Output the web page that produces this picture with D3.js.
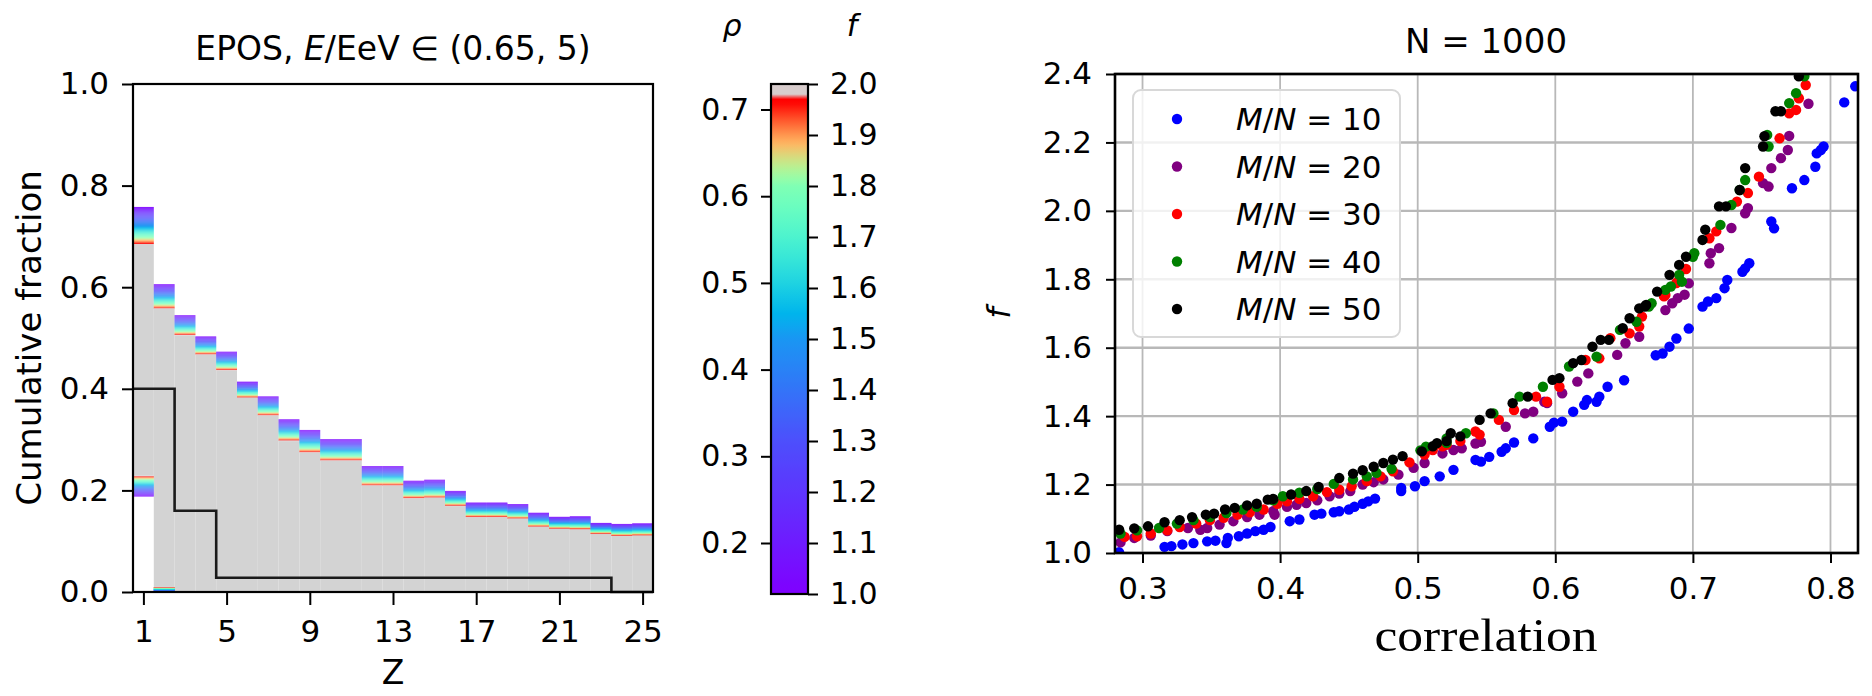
<!DOCTYPE html>
<html>
<head>
<meta charset="utf-8">
<script src="https://cdnjs.cloudflare.com/ajax/libs/d3/7.8.5/d3.min.js"></script>
<style>
body { margin: 0; background: #fff; }
svg { font-family: "DejaVu Sans", sans-serif; }
</style>
</head>
<body>
<script>
// left panel: cumulative fraction per Z, band edges at f = 1 and f = 2
var zBins = [1, 2, 3, 4, 5, 6, 7, 8, 9, 10, 11, 12, 13, 14, 15, 16, 17, 18, 19, 20, 21, 22, 23, 24, 25];
var upperF1 = [0.758, 0.606, 0.545, 0.503, 0.473, 0.414, 0.385, 0.340, 0.319, 0.301, 0.301, 0.248, 0.248,
    0.219, 0.221, 0.199, 0.176, 0.176, 0.173, 0.156, 0.148, 0.149, 0.136, 0.134, 0.135];
var upperF2 = [0.683, 0.557, 0.505, 0.467, 0.436, 0.382, 0.347, 0.297, 0.274, 0.258, 0.258, 0.209, 0.209,
    0.184, 0.185, 0.169, 0.147, 0.147, 0.144, 0.128, 0.124, 0.123, 0.114, 0.110, 0.111];
var lowerF1 = [0.188, 0.0, 0, 0, 0, 0, 0, 0, 0, 0, 0, 0, 0, 0, 0, 0, 0, 0, 0, 0, 0, 0, 0, 0, 0];
var lowerF2 = [0.229, 0.010, 0, 0, 0, 0, 0, 0, 0, 0, 0, 0, 0, 0, 0, 0, 0, 0, 0, 0, 0, 0, 0, 0, 0];
var trueFraction = [0.40, 0.40, 0.16, 0.16, 0.028, 0.028, 0.028, 0.028, 0.028, 0.028, 0.028, 0.028, 0.028,
    0.028, 0.028, 0.028, 0.028, 0.028, 0.028, 0.028, 0.028, 0.028, 0.028, 0, 0];
var zTicks = [1, 5, 9, 13, 17, 21, 25];
var fracTicks = [0, 0.2, 0.4, 0.6, 0.8, 1.0];

// colorbar
var rhoTicks = [0.2, 0.3, 0.4, 0.5, 0.6, 0.7];
var fTicks = [1.0, 1.1, 1.2, 1.3, 1.4, 1.5, 1.6, 1.7, 1.8, 1.9, 2.0];
var cmapF = [1.0, 1.3, 1.5, 1.6, 1.7, 1.8, 1.9, 1.965];
var cmapT = [0, 0.1, 0.2, 0.3, 0.4, 0.5, 0.8, 1.0];

// right panel: f vs correlation
var corrTicks = [0.3, 0.4, 0.5, 0.6, 0.7, 0.8];
var fAxisTicks = [1.0, 1.2, 1.4, 1.6, 1.8, 2.0, 2.2, 2.4];
var seriesLabels = ["10", "20", "30", "40", "50"];

var mn10 = [[0.283,1.002],[0.316,1.018],[0.321,1.020],[0.329,1.025],[0.337,1.029],[0.347,1.034],[0.353,1.036],
    [0.361,1.029],[0.362,1.044],[0.370,1.049],[0.376,1.057],[0.382,1.064],[0.388,1.068],[0.393,1.076],
    [0.407,1.093],[0.414,1.098],[0.425,1.112],[0.430,1.115],[0.439,1.119],[0.443,1.122],[0.450,1.127],
    [0.454,1.135],[0.460,1.144],[0.464,1.151],[0.469,1.159],[0.488,1.181],[0.488,1.190],[0.498,1.195],
    [0.505,1.210],[0.516,1.224],[0.526,1.243],[0.542,1.272],[0.546,1.267],[0.552,1.281],[0.561,1.296],
    [0.564,1.306],[0.570,1.323],[0.584,1.335],[0.596,1.369],[0.599,1.381],[0.605,1.384],[0.613,1.413],
    [0.621,1.433],[0.623,1.447],[0.630,1.442],[0.632,1.457],[0.638,1.486],[0.650,1.505],[0.673,1.578],
    [0.678,1.583],[0.683,1.603],[0.688,1.627],[0.697,1.656],[0.707,1.720],[0.711,1.735],[0.717,1.745],
    [0.723,1.774],[0.725,1.798],[0.736,1.822],[0.738,1.832],[0.741,1.847],[0.757,1.969],[0.759,1.949],
    [0.772,2.066],[0.781,2.090],[0.789,2.129],[0.790,2.168],[0.793,2.178],[0.795,2.188],[0.810,2.317],
    [0.818,2.364]];
var mn20 = [[0.284,1.031],[0.294,1.044],[0.306,1.051],[0.318,1.064],[0.333,1.073],[0.342,1.068],[0.347,1.073],
    [0.356,1.083],[0.366,1.093],[0.376,1.105],[0.385,1.112],[0.395,1.122],[0.396,1.112],[0.405,1.135],
    [0.412,1.141],[0.419,1.146],[0.427,1.154],[0.436,1.166],[0.443,1.174],[0.451,1.181],[0.460,1.200],
    [0.468,1.207],[0.475,1.215],[0.486,1.229],[0.497,1.249],[0.505,1.263],[0.518,1.291],[0.526,1.301],
    [0.532,1.306],[0.542,1.320],[0.546,1.325],[0.564,1.369],[0.578,1.408],[0.584,1.413],[0.592,1.442],
    [0.594,1.438],[0.605,1.467],[0.616,1.501],[0.624,1.525],[0.645,1.579],[0.651,1.613],[0.661,1.632],
    [0.680,1.710],[0.685,1.730],[0.689,1.745],[0.694,1.755],[0.697,1.788],[0.712,1.847],[0.713,1.876],
    [0.719,1.891],[0.728,1.950],[0.738,1.993],[0.740,2.008],[0.751,2.081],[0.755,2.071],[0.757,2.125],
    [0.764,2.154],[0.769,2.178],[0.770,2.219],[0.784,2.313]];
var mn30 = [[0.287,1.047],[0.296,1.049],[0.306,1.057],[0.318,1.066],[0.327,1.076],[0.339,1.086],[0.349,1.096],
    [0.359,1.103],[0.369,1.112],[0.378,1.119],[0.388,1.127],[0.398,1.144],[0.405,1.151],[0.414,1.158],
    [0.424,1.166],[0.434,1.178],[0.443,1.185],[0.452,1.195],[0.463,1.210],[0.473,1.224],[0.482,1.239],
    [0.494,1.265],[0.505,1.288],[0.511,1.301],[0.518,1.312],[0.521,1.316],[0.531,1.327],[0.542,1.355],
    [0.545,1.346],[0.559,1.389],[0.570,1.418],[0.586,1.457],[0.594,1.442],[0.603,1.486],[0.622,1.564],
    [0.632,1.569],[0.640,1.628],[0.654,1.642],[0.661,1.662],[0.663,1.691],[0.679,1.750],[0.680,1.754],
    [0.688,1.789],[0.690,1.798],[0.695,1.830],[0.712,1.920],[0.717,1.940],[0.732,2.027],[0.740,2.052],
    [0.748,2.100],[0.763,2.212],[0.770,2.285],[0.775,2.295],[0.777,2.329],[0.782,2.368]];
var mn40 = [[0.284,1.057],[0.296,1.066],[0.312,1.073],[0.325,1.086],[0.337,1.096],[0.349,1.105],[0.361,1.117],
    [0.373,1.127],[0.383,1.135],[0.395,1.154],[0.402,1.166],[0.414,1.176],[0.427,1.187],[0.439,1.202],
    [0.453,1.215],[0.463,1.224],[0.470,1.234],[0.481,1.246],[0.502,1.300],[0.506,1.311],[0.521,1.322],
    [0.521,1.335],[0.535,1.350],[0.555,1.408],[0.574,1.457],[0.591,1.486],[0.610,1.545],[0.630,1.574],
    [0.647,1.652],[0.659,1.676],[0.668,1.720],[0.670,1.730],[0.680,1.769],[0.684,1.779],[0.690,1.813],
    [0.692,1.793],[0.700,1.866],[0.701,1.876],[0.720,1.959],[0.728,2.017],[0.734,2.061],[0.738,2.090],
    [0.754,2.222],[0.755,2.188],[0.770,2.315],[0.775,2.344],[0.781,2.393]];
var mn50 = [[0.283,1.068],[0.294,1.072],[0.304,1.078],[0.316,1.090],[0.327,1.096],[0.336,1.105],[0.346,1.112],
    [0.352,1.115],[0.360,1.127],[0.367,1.132],[0.376,1.139],[0.383,1.144],[0.391,1.156],[0.395,1.158],
    [0.408,1.171],[0.419,1.181],[0.428,1.193],[0.443,1.219],[0.453,1.232],[0.460,1.242],[0.468,1.252],
    [0.475,1.263],[0.482,1.273],[0.489,1.283],[0.503,1.297],[0.511,1.312],[0.514,1.321],[0.521,1.327],
    [0.524,1.350],[0.531,1.341],[0.545,1.389],[0.553,1.408],[0.569,1.438],[0.580,1.457],[0.598,1.506],
    [0.603,1.511],[0.613,1.555],[0.619,1.564],[0.627,1.603],[0.633,1.623],[0.639,1.623],[0.649,1.657],
    [0.654,1.686],[0.661,1.715],[0.665,1.720],[0.666,1.725],[0.674,1.764],[0.683,1.813],[0.690,1.842],
    [0.695,1.866],[0.707,1.915],[0.709,1.945],[0.719,2.013],[0.724,2.013],[0.734,2.061],[0.738,2.125],
    [0.751,2.188],[0.752,2.218],[0.760,2.291],[0.764,2.291],[0.777,2.393]];


// matplotlib "rainbow"
function rainbow(t) {
    var r = Math.min(1, Math.abs(2 * t - 0.5));
    var g = Math.sin(Math.PI * t);
    var b = Math.cos(Math.PI * t / 2);
    return d3.rgb(r * 255, g * 255, b * 255).toString();
}
var fToT = d3.scaleLinear().domain(cmapF).range(cmapT).clamp(true);
function fColor(f) {
    if (f > 1.975) return "#d8cccc";
    return rainbow(fToT(f));
}

function display() {

    var svg = d3.select("body").append("svg")
        .attr("width", 1872)
        .attr("height", 696);

    // ---------- left panel ----------
    var x = d3.scaleLinear().domain([0.5, 25.5]).range([133, 653]);
    var y = d3.scaleLinear().domain([0, 1]).range([592, 84]);
    var left = svg.append("g").attr("class", "left");

    // gray fill between lower and upper band
    left.append("g").selectAll("rect")
        .data(zBins)
        .enter().append("rect")
        .attr("x", function(z) { return x(z - 0.5); })
        .attr("width", function(z) { return x(z + 0.5) - x(z - 0.5); })
        .attr("y", function(z, i) { return y(upperF2[i]); })
        .attr("height", function(z, i) { return y(lowerF2[i]) - y(upperF2[i]); })
        .attr("fill", "#d3d3d3");

    // colored bands, one slice per f step
    var nSlices = 40;
    var slices = [];
    zBins.forEach(function(z, i) {
        for (var k = 0; k < nSlices; k++) {
            var s0 = k / nSlices, s1 = (k + 1) / nSlices;
            var f = 1 + (s0 + s1) / 2;
            slices.push({ z: z, a: upperF1[i] + (upperF2[i] - upperF1[i]) * s0,
                b: upperF1[i] + (upperF2[i] - upperF1[i]) * s1, f: f });
            if (lowerF2[i] > lowerF1[i]) {
                slices.push({ z: z, a: lowerF1[i] + (lowerF2[i] - lowerF1[i]) * s1,
                    b: lowerF1[i] + (lowerF2[i] - lowerF1[i]) * s0, f: f });
            }
        }
    });
    left.append("g").selectAll("rect")
        .data(slices)
        .enter().append("rect")
        .attr("x", function(d) { return x(d.z - 0.5); })
        .attr("width", function(d) { return x(d.z + 0.5) - x(d.z - 0.5); })
        .attr("y", function(d) { return y(d.a); })
        .attr("height", function(d) { return Math.max(0.5, y(d.b) - y(d.a)); })
        .attr("fill", function(d) { return fColor(d.f); });

    // true composition step line
    var stepPts = [];
    zBins.forEach(function(z, i) {
        stepPts.push([z - 0.5, trueFraction[i]]);
        stepPts.push([z + 0.5, trueFraction[i]]);
    });
    left.append("path")
        .datum(stepPts)
        .attr("d", d3.line().x(function(d) { return x(d[0]); }).y(function(d) { return y(d[1]); }))
        .attr("fill", "none")
        .attr("stroke", "#1a1a1a")
        .attr("stroke-width", 2.6);

    left.append("rect")
        .attr("x", 133).attr("y", 84)
        .attr("width", 520).attr("height", 508)
        .attr("fill", "none")
        .attr("stroke", "#000")
        .attr("stroke-width", 2.2);

    var lx = left.append("g")
        .attr("transform", "translate(0,592)")
        .call(d3.axisBottom(x).tickValues(zTicks).tickSize(13).tickSizeOuter(0).tickPadding(15));
    var ly = left.append("g")
        .attr("transform", "translate(133,0)")
        .call(d3.axisLeft(y).tickValues(fracTicks).tickFormat(d3.format(".1f")).tickSize(11).tickSizeOuter(0).tickPadding(13));
    [lx, ly].forEach(function(g) {
        g.select(".domain").remove();
        g.selectAll("line").attr("stroke", "#000").attr("stroke-width", 2);
        g.selectAll("text").attr("font-size", 31).attr("font-family", "DejaVu Sans");
    });

    left.append("text")
        .attr("x", 393).attr("y", 60)
        .attr("text-anchor", "middle")
        .attr("font-size", 33)
        .html('EPOS, <tspan font-style="italic">E</tspan>/EeV ∈ (0.65, 5)');
    left.append("text")
        .attr("x", 393).attr("y", 684)
        .attr("text-anchor", "middle")
        .attr("font-size", 33)
        .text("Z");
    left.append("text")
        .attr("transform", "translate(41,338) rotate(-90)")
        .attr("text-anchor", "middle")
        .attr("font-size", 34)
        .text("Cumulative fraction");

    // ---------- colorbar ----------
    var cbX = 771, cbW = 37;
    var fScale = d3.scaleLinear().domain([1, 2]).range([594, 84]);
    var rhoScale = d3.scaleLinear().domain([0.2, 0.7]).range([fScale(1.1), fScale(1.95)]);

    var grad = svg.append("defs").append("linearGradient")
        .attr("id", "cbgrad")
        .attr("x1", 0).attr("y1", 1).attr("x2", 0).attr("y2", 0);
    grad.selectAll("stop")
        .data(d3.range(0, 101))
        .enter().append("stop")
        .attr("offset", function(k) { return k + "%"; })
        .attr("stop-color", function(k) { return fColor(1 + k / 100); });

    var cb = svg.append("g").attr("class", "colorbar");
    cb.append("rect")
        .attr("x", cbX).attr("y", 84)
        .attr("width", cbW).attr("height", 510)
        .attr("fill", "url(#cbgrad)")
        .attr("stroke", "#000")
        .attr("stroke-width", 2.2);
    var cbR = cb.append("g")
        .attr("transform", "translate(" + (cbX + cbW) + ",0)")
        .call(d3.axisRight(fScale).tickValues(fTicks).tickFormat(d3.format(".1f")).tickSize(10).tickSizeOuter(0).tickPadding(12));
    var cbL = cb.append("g")
        .attr("transform", "translate(" + cbX + ",0)")
        .call(d3.axisLeft(rhoScale).tickValues(rhoTicks).tickFormat(d3.format(".1f")).tickSize(10).tickSizeOuter(0).tickPadding(12));
    [cbR, cbL].forEach(function(g) {
        g.select(".domain").remove();
        g.selectAll("line").attr("stroke", "#000").attr("stroke-width", 2);
        g.selectAll("text").attr("font-size", 30).attr("font-family", "DejaVu Sans");
    });
    cb.append("text")
        .attr("x", 732).attr("y", 36)
        .attr("text-anchor", "middle")
        .attr("font-size", 30)
        .attr("font-style", "italic")
        .text("ρ");
    cb.append("text")
        .attr("x", 852).attr("y", 36)
        .attr("text-anchor", "middle")
        .attr("font-size", 30)
        .attr("font-style", "italic")
        .text("f");

    // ---------- right panel ----------
    var cx = d3.scaleLinear().domain([0.28, 0.82]).range([1115, 1858]);
    var cy = d3.scaleLinear().domain([1.0, 2.4]).range([553, 74]);
    var right = svg.append("g").attr("class", "right");

    svg.select("defs").append("clipPath")
        .attr("id", "clipR")
        .append("rect")
        .attr("x", 1115).attr("y", 74)
        .attr("width", 743).attr("height", 479);

    // grid
    right.append("g").selectAll("line")
        .data(corrTicks)
        .enter().append("line")
        .attr("x1", function(d) { return cx(d); })
        .attr("x2", function(d) { return cx(d); })
        .attr("y1", 74).attr("y2", 553)
        .attr("stroke", "#b8b8b8")
        .attr("stroke-width", 1.8);
    right.append("g").selectAll("line")
        .data(fAxisTicks)
        .enter().append("line")
        .attr("y1", function(d) { return cy(d); })
        .attr("y2", function(d) { return cy(d); })
        .attr("x1", 1115).attr("x2", 1858)
        .attr("stroke", "#b8b8b8")
        .attr("stroke-width", 2.4);

    var seriesColors = ["#0000ff", "#800080", "#ff0000", "#008000", "#000000"];
    var allSeries = [mn10, mn20, mn30, mn40, mn50];
    var dots = right.append("g").attr("clip-path", "url(#clipR)");
    allSeries.forEach(function(ser, i) {
        dots.append("g").selectAll("circle")
            .data(ser)
            .enter().append("circle")
            .attr("cx", function(d) { return cx(d[0]); })
            .attr("cy", function(d) { return cy(d[1]); })
            .attr("r", 5.2)
            .attr("fill", seriesColors[i]);
    });

    right.append("rect")
        .attr("x", 1115).attr("y", 74)
        .attr("width", 743).attr("height", 479)
        .attr("fill", "none")
        .attr("stroke", "#000")
        .attr("stroke-width", 2.6);

    var rx = right.append("g")
        .attr("transform", "translate(0,553)")
        .call(d3.axisBottom(cx).tickValues(corrTicks).tickFormat(d3.format(".1f")).tickSize(10).tickSizeOuter(0).tickPadding(14));
    var ry = right.append("g")
        .attr("transform", "translate(1115,0)")
        .call(d3.axisLeft(cy).tickValues(fAxisTicks).tickFormat(d3.format(".1f")).tickSize(9).tickSizeOuter(0).tickPadding(14));
    [rx, ry].forEach(function(g) {
        g.select(".domain").remove();
        g.selectAll("line").attr("stroke", "#000").attr("stroke-width", 2);
        g.selectAll("text").attr("font-size", 31).attr("font-family", "DejaVu Sans");
    });

    // legend
    var leg = right.append("g");
    leg.append("rect")
        .attr("x", 1133).attr("y", 90)
        .attr("width", 267).attr("height", 247)
        .attr("rx", 8)
        .attr("fill", "#fff")
        .attr("fill-opacity", 0.8)
        .attr("stroke", "#d8d8d8")
        .attr("stroke-width", 2);
    var rows = leg.selectAll(".row")
        .data(seriesLabels)
        .enter().append("g")
        .attr("transform", function(d, i) { return "translate(0," + (119 + i * 47.5) + ")"; });
    rows.append("circle")
        .attr("cx", 1177).attr("cy", 0)
        .attr("r", 5.2)
        .attr("fill", function(d, i) { return seriesColors[i]; });
    rows.append("text")
        .attr("x", 1236).attr("y", 11)
        .attr("font-size", 31)
        .html(function(d) { return '<tspan font-style="italic">M</tspan>/<tspan font-style="italic">N</tspan> = ' + d; });

    right.append("text")
        .attr("x", 1486).attr("y", 53)
        .attr("text-anchor", "middle")
        .attr("font-size", 34)
        .text("N = 1000");
    right.append("text")
        .attr("x", 1486).attr("y", 651)
        .attr("text-anchor", "middle")
        .attr("font-family", "Liberation Serif, serif")
        .attr("font-size", 46)
        .attr("textLength", 223)
        .attr("lengthAdjust", "spacingAndGlyphs")
        .text("correlation");
    right.append("text")
        .attr("transform", "translate(1010,313) rotate(-90)")
        .attr("text-anchor", "middle")
        .attr("font-size", 32)
        .attr("font-style", "italic")
        .text("f");
}

document.addEventListener("DOMContentLoaded", function() {
    display();
});
</script>
</body>
</html>
